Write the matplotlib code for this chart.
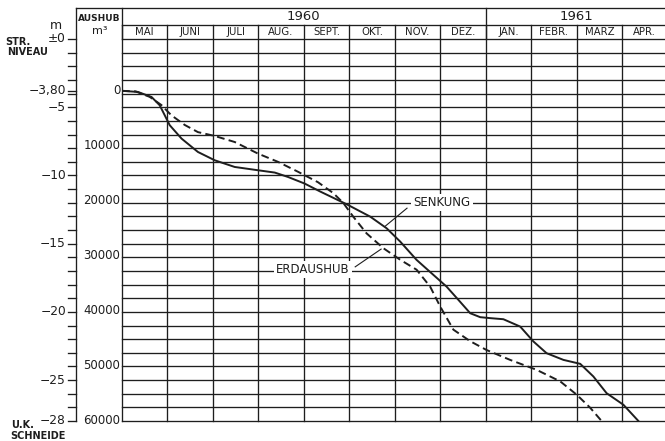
import matplotlib
matplotlib.use("Agg")
from matplotlib import pyplot as plt

# Monate (Spalten), Jahre
monate = ["MAI", "JUNI", "JULI", "AUG.", "SEPT.", "OKT.", "NOV.", "DEZ.",
          "JAN.", "FEBR.", "MÄRZ", "APR."]
jahre = ["1960", "1961"]
jahr_spalten = [(0, 8), (8, 12)]

# linke Skala (m unter Strassenniveau)
m_labels = ["±0", "−3,80", "−5", "−10", "−15", "−20", "−25", "−28"]
m_werte = [0, -3.8, -5, -10, -15, -20, -25, -28]

# Aushub-Skala (m3)
aushub_werte = [0, 10000, 20000, 30000, 40000, 50000, 60000]

# Senkung der Schneide (Monat, m)
senkung_t = [0.0, 0.35, 0.65, 0.83, 0.94, 1.05, 1.31, 1.67, 2.04, 2.48, 2.99,
             3.36, 3.65, 4.02, 4.36, 4.94, 5.46, 5.82, 6.12, 6.48, 6.85, 7.14,
             7.4, 7.66, 7.88, 8.1, 8.39, 8.76, 9.05, 9.34, 9.71, 10.08, 10.37,
             10.66, 11.03, 11.36]
senkung_m = [-3.8, -3.88, -4.25, -4.86, -5.59, -6.32, -7.3, -8.28, -8.89, -9.38,
             -9.62, -9.79, -10.11, -10.6, -11.18, -12.11, -13.02, -13.87, -14.85,
             -16.19, -17.29, -18.15, -19.12, -20.1, -20.39, -20.46, -20.54,
             -21.08, -22.17, -23.03, -23.52, -23.81, -24.74, -25.96, -26.81, -28.0]

# Erdaushub (Monat, m3)
aushub_t = [0.0, 0.3, 0.61, 0.87, 1.08, 1.38, 1.67, 2.04, 2.48, 2.99, 3.43, 3.87,
            4.31, 4.65, 4.87, 5.09, 5.38, 5.75, 6.12, 6.48, 6.78, 7.0, 7.29,
            7.66, 8.02, 8.54, 9.12, 9.64, 10.0, 10.3, 10.55]
aushub_m3 = [0, 100, 1100, 2600, 4400, 6200, 7500, 8200, 9300, 11400, 12900,
             14700, 16600, 18600, 20400, 22900, 25900, 28600, 30700, 32500,
             35600, 39200, 43400, 45500, 47100, 48900, 50700, 52800, 55200,
             57600, 60000]

ink = "#1e1e1e"
plt.rcParams['font.family'] = ['DejaVu Sans']

fig = plt.figure(figsize=(6.65, 4.41), dpi=100)
ax = fig.add_axes([122 / 665, 1 - 421 / 441, (667.5 - 122) / 665, (421 - 39) / 441])
ax.set_xlim(0, 12)
ax.set_ylim(-28, 0)
ax.axis("off")

ax2 = ax.twinx()
ax2.set_ylim(60000, -3.8 * 60000 / 24.2)
ax2.axis("off")

# Raster
for i in range(0, 29):
    ax.plot([0, 12], [-i, -i], color=ink, lw=0.95, clip_on=False)
for i in range(0, 13):
    ax.plot([i, i], [-28, 1.03], color=ink, lw=0.95, clip_on=False)

# Kopf
x_links = -1.012
top = 2.27
ax.plot([x_links, 12], [top, top], color=ink, lw=0.95, clip_on=False)
ax.plot([0, 12], [1.03, 1.03], color=ink, lw=0.95, clip_on=False)
ax.plot([0, 0], [top, 0], color=ink, lw=0.95, clip_on=False)
for (a, b), jahr in zip(jahr_spalten, jahre):
    ax.plot([b, b], [top, 0], color=ink, lw=0.95, clip_on=False)
    ax.text((a + b) / 2, 1.66, jahr, ha="center", va="center", fontsize=9.5,
            color=ink)
for i, name in enumerate(monate):
    ax.text(i + 0.5, 0.5, name, ha="center", va="center", fontsize=7.3, color=ink)
ax.text(-0.5, 1.5, "AUSHUB", ha="center", va="center", fontsize=6.5,
        fontweight="bold", color=ink)
ax.text(-0.5, 0.6, "m³", ha="center", va="center", fontsize=8, color=ink)

# linke m-Achse
ax.plot([x_links, x_links], [top, -28], color=ink, lw=0.95, clip_on=False)
for i in range(0, 29):
    ax.plot([x_links - 0.18, x_links], [-i, -i], color=ink, lw=0.95, clip_on=False)
ax.plot([x_links - 0.18, x_links], [-3.8, -3.8], color=ink, lw=0.95, clip_on=False)
for lab, v in zip(m_labels, m_werte):
    ax.text(x_links - 0.22, v, lab, ha="right", va="center", fontsize=8.8, color=ink)
ax.text(-1.45, 1.0, "m", ha="center", va="center", fontsize=9, color=ink)
ax.text(-2.57, -0.2, "STR.", ha="left", va="center", fontsize=7, fontweight="bold", color=ink)
ax.text(-2.53, -0.95, "NIVEAU", ha="left", va="center", fontsize=7, fontweight="bold", color=ink)
ax.text(-2.45, -28.28, "U.K.", ha="left", va="center", fontsize=7, fontweight="bold", color=ink)
ax.text(-2.45, -29.1, "SCHNEIDE", ha="left", va="center", fontsize=7, fontweight="bold", color=ink)

# Aushub-Beschriftung
for v in aushub_werte:
    ax2.text(-0.04, v, str(v), ha="right", va="center", fontsize=8.5, color=ink,
             clip_on=False)

# Kurven
ax.plot(senkung_t, senkung_m, color=ink, lw=1.4, solid_joinstyle="round")
ax2.plot(aushub_t, aushub_m3, color=ink, lw=1.4, dashes=(4, 2.2))

# Beschriftungen
ax.text(7.04, -12.0, "SENKUNG", ha="center", va="center", fontsize=8.5, color=ink,
        bbox=dict(facecolor="white", edgecolor="none", pad=1.5))
ax.plot([6.27, 5.78], [-12.4, -13.75], color=ink, lw=0.8)
ax.text(4.2, -16.9, "ERDAUSHUB", ha="center", va="center", fontsize=8.5, color=ink,
        bbox=dict(facecolor="white", edgecolor="none", pad=1.5))
ax.plot([5.13, 5.7], [-16.7, -15.4], color=ink, lw=0.8)

fig.savefig("out.png", dpi=100, facecolor="white")
